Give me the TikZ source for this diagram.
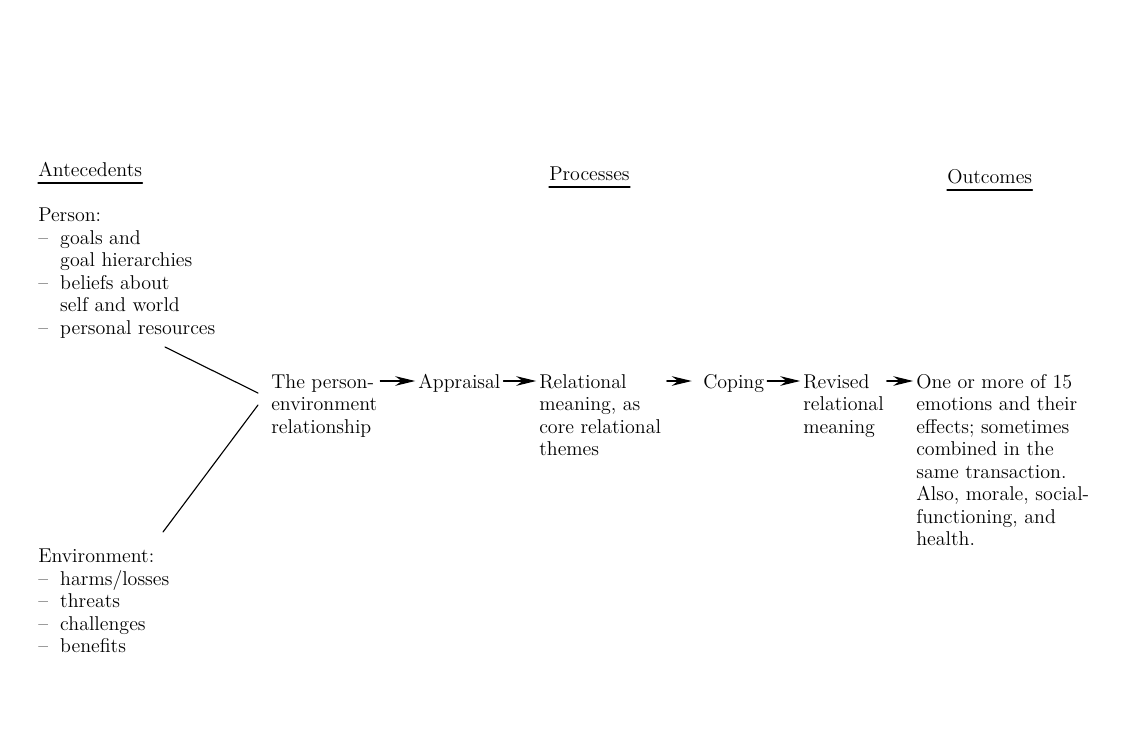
\documentclass[tikz,border=0pt]{standalone}
\usetikzlibrary{arrows.meta}

\newcommand{\itm}{\makebox[1.1em][l]{--}}
\newcommand{\cnt}{\hspace*{1.1em}}

\begin{document}
\begin{tikzpicture}[
  x=0.025cm,
  y=-0.025cm,
  line cap=round,
  font=\fontsize{14.2}{16}\selectfont,
  block/.style={anchor=north west,inner sep=0pt,align=left},
  heading/.style={anchor=base west,inner sep=0pt},
  rule/.style={draw=black,line width=0.9pt},
  link/.style={draw=black,line width=0.8pt},
  flow/.style={draw=black,line width=0.8pt,shorten <=2pt,shorten >=2pt,
    -{Stealth[length=5mm,width=2.4mm]}}
]
  \useasboundingbox (0,0) rectangle (1141,730);

  % Column headings, underlined.
  \node[heading] (ant) at (38,176) {Antecedents};
  \node[heading] (proc) at (549,180) {Processes};
  \node[heading] (outc) at (947,183) {Outcomes};
  \foreach \h in {ant,proc,outc} {
    \draw[rule] ([yshift=-5pt]\h.base west) -- ([yshift=-5pt]\h.base east);
  }

  % Antecedents: person and environment.
  \node[block] (person) at (38,208) {Person:\\
    \itm goals and\\
    \cnt goal hierarchies\\
    \itm beliefs about\\
    \cnt self and world\\
    \itm personal resources};
  \node[block] (env) at (38,549) {Environment:\\
    \itm harms/losses\\
    \itm threats\\
    \itm challenges\\
    \itm benefits};

  % The chain of processes and its outcome.
  \node[block] (pe) at (271,374) {The person-\\environment\\relationship};
  \node[block] (app) at (418,374) {Appraisal};
  \node[block] (rel) at (539,374) {Relational\\meaning, as\\core relational\\themes};
  \node[block] (cop) at (703,374) {Coping};
  \node[block] (rev) at (803,374) {Revised\\relational\\meaning};
  \node[block] (out) at (916,374) {One or more of 15\\emotions and their\\effects; sometimes\\combined in the\\same transaction.\\Also, morale, social-\\functioning, and\\health.};

  % Person and environment meet at the relationship.
  \coordinate (pfoot) at (165,347);
  \coordinate (efoot) at (163,532);
  \coordinate (pmeet) at (258,393);
  \coordinate (emeet) at (258,405);
  \draw[link] (pfoot) -- (pmeet);
  \draw[link] (efoot) -- (emeet);

  \coordinate (row) at (0,381);
  \draw[flow] (pe.east |- row) -- (app.west |- row);
  \draw[flow] (app.east |- row) -- (rel.west |- row);
  \draw[flow] ([xshift=2pt]rel.east |- row) -- ([xshift=-6pt]cop.west |- row);
  \draw[flow] (cop.east |- row) -- (rev.west |- row);
  \draw[flow] (rev.east |- row) -- (out.west |- row);
\end{tikzpicture}
\end{document}
